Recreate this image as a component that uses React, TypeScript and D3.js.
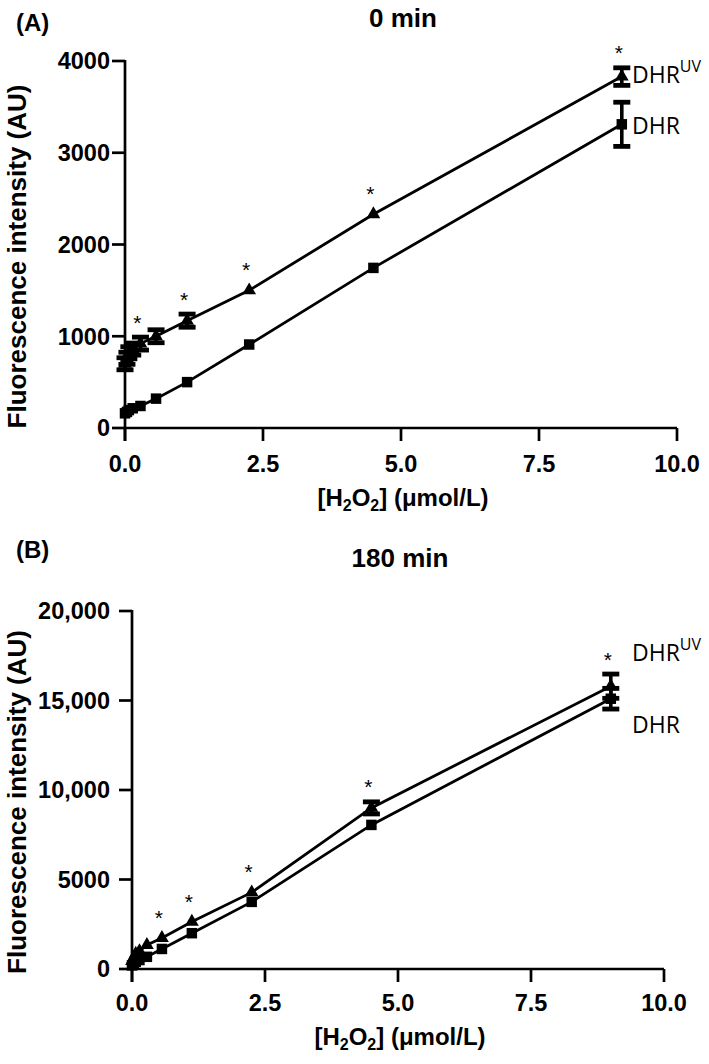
import React from "react";
import * as d3 from "d3";

// ---- data ----
const concentrations = [0, 0.035, 0.07, 0.14, 0.28, 0.5625, 1.125, 2.25, 4.5, 9];

// Panel A: 0 min
const dhrA = [160, 175, 195, 215, 240, 320, 500, 910, 1745, 3310];
const dhrAErr = [25, 25, 25, 25, 25, 25, 30, 30, 30, 245];
const dhrUvA = [700, 760, 820, 860, 920, 1000, 1170, 1500, 2330, 3830];
const dhrUvAErr = [70, 70, 70, 70, 75, 75, 76, 30, 30, 100];
const sigA = [0.28, 1.125, 2.25, 4.5, 9];

// Panel B: 180 min
const dhrB = [200, 300, 400, 500, 680, 1120, 2000, 3750, 8050, 15100];
const dhrBErr = [80, 80, 80, 80, 80, 100, 120, 150, 200, 600];
const dhrUvB = [450, 650, 850, 1000, 1340, 1730, 2640, 4280, 9000, 15800];
const dhrUvBErr = [80, 80, 80, 80, 100, 120, 150, 200, 360, 700];
const sigB = [0.5625, 1.125, 2.25, 4.5, 9];

const xTicks = [0, 2.5, 5, 7.5, 10];
const yTicksA = [0, 1000, 2000, 3000, 4000];
const yTicksB = [0, 5000, 10000, 15000, 20000];

const AX = "'Liberation Sans', Arial, sans-serif";
const LBL = "'Open Sans', 'Noto Sans', sans-serif";

type PanelProps = {
  tag: string;
  title: string;
  xr: [number, number];
  yr: [number, number];
  yMax: number;
  yTicks: number[];
  fmt: (v: number) => string;
  dhr: number[];
  dhrErr: number[];
  uv: number[];
  uvErr: number[];
  sig: number[];
  tagY: number;
  titleY: number;
  xTickY: number;
  xTitleY: number;
  uvLabelY: number;
  dhrLabelY: number;
};

const MARK_HALF = 6;

function Panel(p: PanelProps) {
  const x = d3.scaleLinear().domain([0, 10]).range(p.xr);
  const y = d3.scaleLinear().domain([0, p.yMax]).range(p.yr);
  const line = d3
    .line<[number, number]>()
    .x((d) => x(d[0]))
    .y((d) => y(d[1]));
  const dhrPts = concentrations.map((c, i) => [c, p.dhr[i]] as [number, number]);
  const uvPts = concentrations.map((c, i) => [c, p.uv[i]] as [number, number]);
  const tri = d3.symbol(d3.symbolTriangle, 82)()!;
  const sq = d3.symbol(d3.symbolSquare, 110)()!;
  const tickLen = 13;
  const x0 = p.xr[0];
  const yBase = p.yr[0];
  const yTop = p.yr[1];
  const xMid = (p.xr[0] + p.xr[1]) / 2 + 2;

  const errBars = (means: number[], errs: number[], key: string) =>
    concentrations.map((c, i) => {
      const cx = x(c);
      const y1 = y(means[i] + errs[i]);
      const y2 = y(means[i] - errs[i]);
      if (Math.abs(y(means[i]) - y1) < MARK_HALF) return null;
      return (
        <g key={key + i}>
          <line x1={cx} x2={cx} y1={y1} y2={y2} stroke="#000" strokeWidth={3.6} />
          <rect x={cx - 8.5} y={y1 - 2} width={17} height={4.8} fill="#000" />
          <rect x={cx - 8.5} y={y2 - 2.8} width={17} height={4.8} fill="#000" />
        </g>
      );
    });

  return (
    <g>
      <text x={16} y={p.tagY} fontFamily={AX} fontWeight="bold" fontSize={24}>
        {p.tag}
      </text>
      <text x={xMid} y={p.titleY} fontFamily={AX} fontWeight="bold" fontSize={26} textAnchor="middle">
        {p.title}
      </text>
      {/* y axis */}
      <line x1={x0} x2={x0} y1={yTop - 1} y2={yBase + tickLen} stroke="#000" strokeWidth={2.7} />
      {p.yTicks.map((t) => (
        <g key={"yt" + t}>
          <line x1={x0 - tickLen} x2={x0} y1={y(t)} y2={y(t)} stroke="#000" strokeWidth={2.7} />
          <text x={110} y={y(t)} dy="0.36em" textAnchor="end" fontFamily={AX} fontWeight="bold" fontSize={23.5}>
            {p.fmt(t)}
          </text>
        </g>
      ))}
      {/* x axis */}
      <line x1={x0} x2={p.xr[1]} y1={yBase} y2={yBase} stroke="#000" strokeWidth={2.7} />
      {xTicks.map((t) => (
        <g key={"xt" + t}>
          <line x1={x(t)} x2={x(t)} y1={yBase} y2={yBase + tickLen} stroke="#000" strokeWidth={2.7} />
          <text x={x(t)} y={p.xTickY} textAnchor="middle" fontFamily={AX} fontWeight="bold" fontSize={23.5}>
            {d3.format(".1f")(t)}
          </text>
        </g>
      ))}
      <text x={xMid} y={p.xTitleY} textAnchor="middle" fontFamily={AX} fontWeight="bold" fontSize={24}>
        [H<tspan fontSize={16} dy={5}>2</tspan>
        <tspan dy={-5}>O</tspan>
        <tspan fontSize={16} dy={5}>2</tspan>
        <tspan dy={-5}>] (μmol/L)</tspan>
      </text>
      <text
        transform={`translate(26,${(yTop + yBase) / 2 + 12}) rotate(-90)`}
        textAnchor="middle"
        fontFamily={AX}
        fontWeight="bold"
        fontSize={26}
      >
        Fluorescence intensity (AU)
      </text>
      {/* series lines */}
      <path d={line(dhrPts)!} fill="none" stroke="#000" strokeWidth={2.8} />
      <path d={line(uvPts)!} fill="none" stroke="#000" strokeWidth={2.8} />
      {errBars(p.dhr, p.dhrErr, "de")}
      {errBars(p.uv, p.uvErr, "ue")}
      {dhrPts.map((d, i) => (
        <path key={"sq" + i} d={sq} transform={`translate(${x(d[0])},${y(d[1])})`} fill="#000" />
      ))}
      {uvPts.map((d, i) => (
        <path key={"tr" + i} d={tri} transform={`translate(${x(d[0])},${y(d[1])})`} fill="#000" />
      ))}
      {/* significance */}
      {p.sig.map((c) => {
        const i = concentrations.indexOf(c);
        const top = Math.min(y(p.uv[i] + p.uvErr[i]), y(p.uv[i]) - MARK_HALF);
        return (
          <text key={"s" + c} x={x(c) - 3} y={top - 7} textAnchor="middle" fontFamily={AX} fontSize={21}>
            *
          </text>
        );
      })}
      <text x={632} y={p.uvLabelY} fontFamily={LBL} fontSize={23}>
        DHR
        <tspan fontSize={16} dy={-11}>
          UV
        </tspan>
      </text>
      <text x={632} y={p.dhrLabelY} fontFamily={LBL} fontSize={23}>
        DHR
      </text>
    </g>
  );
}

const fmtA = (v: number) => String(v);
const fmtB = (v: number) => (v >= 10000 ? d3.format(",")(v) : String(v));

export default function App() {
  return (
    <svg width={709} height={1064} style={{ position: "absolute", left: 0, top: 0, background: "#fff" }}>
      <rect width={709} height={1064} fill="#fff" />
      <Panel
        tag="(A)"
        title="0 min"
        xr={[125, 677]}
        yr={[428, 61]}
        yMax={4000}
        yTicks={yTicksA}
        fmt={fmtA}
        dhr={dhrA}
        dhrErr={dhrAErr}
        uv={dhrUvA}
        uvErr={dhrUvAErr}
        sig={sigA}
        tagY={31}
        titleY={27}
        xTickY={472}
        xTitleY={506}
        uvLabelY={83}
        dhrLabelY={134}
      />
      <Panel
        tag="(B)"
        title="180 min"
        xr={[132, 664]}
        yr={[969, 611]}
        yMax={20000}
        yTicks={yTicksB}
        fmt={fmtB}
        dhr={dhrB}
        dhrErr={dhrBErr}
        uv={dhrUvB}
        uvErr={dhrUvBErr}
        sig={sigB}
        tagY={558}
        titleY={567}
        xTickY={1011}
        xTitleY={1045}
        uvLabelY={661}
        dhrLabelY={733}
      />
    </svg>
  );
}
